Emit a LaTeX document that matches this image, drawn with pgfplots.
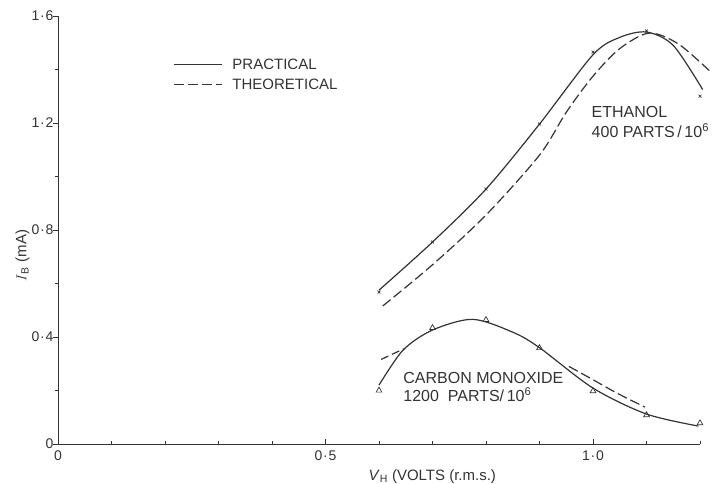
\documentclass[border=0pt]{standalone}
\usepackage{pgfplots}
\pgfplotsset{compat=1.18}
\usepackage{fontspec}
\setmainfont{Liberation Sans}
\definecolor{ink}{HTML}{333333}
\newcommand{\dt}{\kern0.8pt·\kern0.8pt}
\begin{document}
\begin{tikzpicture}
\begin{axis}[
 scale only axis, width=642pt, height=428pt,
 xmin=0, xmax=1.2, ymin=0, ymax=1.6,
 axis lines*=left, axis line style={ink, line width=0.8pt},
 clip=false,
 xtick={0,0.5,1.0}, xticklabels={0,0\dt5,1\dt0},
 minor xtick={0.1,0.2,0.3,0.4,0.6,0.7,0.8,0.9,1.1,1.2},
 ytick={0,0.4,0.8,1.2,1.6}, yticklabels={0,0\dt4,0\dt8,1\dt2,1\dt6},
 minor ytick={0.2,0.6,1.0,1.4},
 tick align=inside, major tick length=5pt, minor tick length=3pt,
 tick style={ink, line width=0.6pt},
 every major y tick/.style={xshift=-5pt},
 every minor y tick/.style={xshift=-3pt},
 ticklabel style={font=\fontsize{14}{14}\selectfont, text=ink},
 xticklabel style={yshift=-3pt},
 yticklabel style={xshift=-1pt},
 xlabel={\textit{V}\textsubscript{H} (VOLTS (r.m.s.)},
 xlabel style={at={(rel axis cs:0.583,0)}, anchor=north, yshift=-22pt, font=\fontsize{15}{15}\selectfont, text=ink},
 ylabel={$I$\textsubscript{B} (mA)},
 ylabel style={at={(rel axis cs:0,0.44)}, anchor=south, rotate=0, yshift=25pt, font=\fontsize{15}{15}\selectfont, text=ink},
 legend style={at={(axis cs:0.215,1.448)}, anchor=north west, draw=none, fill=none, inner sep=0pt, row sep=4pt, font=\fontsize{15}{15}\selectfont, text=ink, legend cell align=left, /tikz/every odd column/.style={column sep=8pt}},
 legend image code/.code={\draw[#1] (0pt,0pt) -- (48pt,0pt);},
 every axis plot/.append style={ink, line width=1.2pt},
]
\coordinate (O) at (rel axis cs:0,0);
% Ethanol practical
\addplot[smooth, no markers] coordinates {
 (0.6,0.575) (0.7,0.755) (0.8,0.953) (0.9,1.196) (1.0,1.455) (1.05,1.52) (1.1,1.54) (1.15,1.49) (1.205,1.325)};
% Ethanol theoretical
\addplot[smooth, no markers, dash pattern=on 10pt off 4pt] coordinates {
 (0.607,0.516) (0.7,0.67) (0.8,0.856) (0.9,1.08) (0.95,1.24) (1.0,1.375) (1.05,1.478) (1.105,1.536) (1.16,1.495) (1.222,1.387)};
\legend{PRACTICAL, THEORETICAL}
% CO practical
\addplot[smooth, no markers, forget plot] coordinates {
 (0.6,0.22) (0.645,0.351) (0.7,0.426) (0.775,0.466) (0.85,0.418) (0.9,0.36) (1.0,0.209) (1.1,0.112) (1.197,0.067)};
% CO theoretical
\addplot[smooth, no markers, forget plot, dash pattern=on 8pt off 4pt] coordinates {
 (0.604,0.316) (0.625,0.336) (0.647,0.356)};
\addplot[smooth, no markers, forget plot, dash pattern=on 10pt off 4pt] coordinates {
 (0.955,0.29) (0.994,0.247) (1.045,0.19) (1.097,0.138)};
% marks
\addplot[only marks, mark=x, mark size=2pt, line width=0.7pt, forget plot] coordinates {
 (0.6,0.568) (0.7,0.755) (0.8,0.953) (0.9,1.196) (1.0,1.465) (1.1,1.544) (1.2,1.30)};
\addplot[only marks, mark=triangle, mark size=3.3pt, line width=0.7pt, forget plot] coordinates {
 (0.6,0.20) (0.7,0.434) (0.8,0.464) (0.9,0.359) (1.0,0.198) (1.1,0.108) (1.2,0.078)};
% annotations
\node[anchor=base west, font=\fontsize{16}{16}\selectfont, text=ink] at (axis cs:0.991,1.219) {ETHANOL};
\node[anchor=base west, font=\fontsize{16}{16}\selectfont, text=ink] at (axis cs:0.991,1.144) {400 PARTS\,/\,10\textsuperscript{6}};
\node[anchor=base west, font=\fontsize{16}{16}\selectfont, text=ink] at (axis cs:0.639,0.228) {CARBON MONOXIDE};
\node[anchor=base west, font=\fontsize{16}{16}\selectfont, text=ink] at (axis cs:0.639,0.157) {1200\ \ PARTS/\,10\textsuperscript{6}};
\end{axis}
\pgfresetboundingbox
\path (O) ++(-58pt,-40pt) rectangle ++(724pt,484pt);
\end{tikzpicture}
\end{document}
